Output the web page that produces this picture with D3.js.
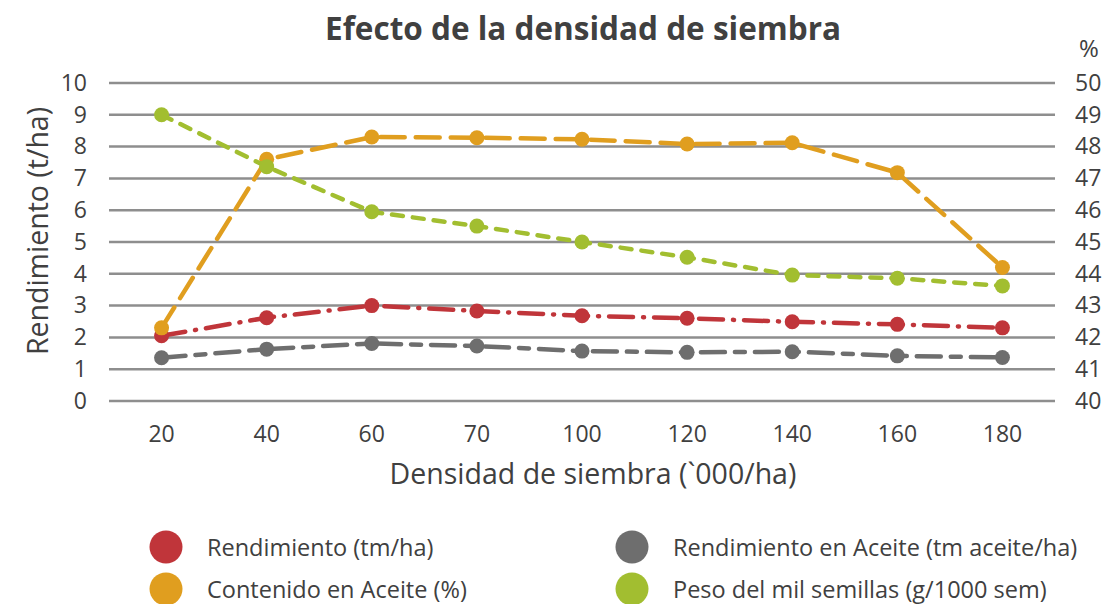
<!DOCTYPE html>
<html>
<head>
<meta charset="utf-8">
<script src="https://cdn.jsdelivr.net/npm/d3@7"></script>
<style>
  body { margin: 0; background: #fff; }
  text { font-family: "Open Sans", sans-serif; fill: #404040; }
</style>
</head>
<body>
<svg id="chart" width="1111" height="604"></svg>
<script>
// datos
var densidades = ["20", "40", "60", "70", "100", "120", "140", "160", "180"];
var rendimiento = [2.05, 2.62, 3.0, 2.83, 2.68, 2.60, 2.49, 2.41, 2.30];      // eje izq
var rendAceite = [1.36, 1.63, 1.81, 1.73, 1.57, 1.53, 1.55, 1.42, 1.37];       // eje izq
var contAceite = [42.3, 47.6, 48.3, 48.28, 48.23, 48.08, 48.12, 47.18, 44.2];  // eje der (%)
var pesoMil = [49.0, 47.37, 45.95, 45.5, 45.0, 44.52, 43.96, 43.86, 43.62];    // eje der
var ticksIzq = [0, 1, 2, 3, 4, 5, 6, 7, 8, 9, 10];
var ticksDer = [40, 41, 42, 43, 44, 45, 46, 47, 48, 49, 50];

var series = [
    {nombre: "Rendimiento (tm/ha)", valores: rendimiento, eje: "izq", color: "#C0353A", dash: "24,10,1,10"},
    {nombre: "Rendimiento en Aceite (tm aceite/ha)", valores: rendAceite, eje: "izq", color: "#6E6E6E", dash: "24,10,10,10"},
    {nombre: "Contenido en Aceite (%)", valores: contAceite, eje: "der", color: "#E09E1F", dash: "24,11"},
    {nombre: "Peso del mil semillas (g/1000 sem)", valores: pesoMil, eje: "der", color: "#A2BE30", dash: "11,10"}
];

var svg = d3.select("#chart");
// "top" es window.top, por eso otros nombres
var mIzq = 109, mDer = 1055, mSup = 83, mInf = 401;

var x = d3.scaleBand().domain(densidades).range([mIzq, mDer]);
var yIzq = d3.scaleLinear().domain([0, 10]).range([mInf, mSup]);
var yDer = d3.scaleLinear().domain([40, 50]).range([mInf, mSup]);

// lineas de cuadricula
svg.append("g")
    .selectAll("line")
    .data(ticksIzq)
    .enter().append("line")
    .attr("x1", mIzq).attr("x2", mDer)
    .attr("y1", function(d) { return yIzq(d); })
    .attr("y2", function(d) { return yIzq(d); })
    .attr("stroke", "#8E8E8E")
    .attr("stroke-width", 2.5);

// ejes
var ejeIzq = svg.append("g")
    .attr("transform", "translate(" + mIzq + ",0)")
    .call(d3.axisLeft(yIzq).tickValues(ticksIzq).tickSize(0).tickPadding(22));
var ejeDer = svg.append("g")
    .attr("transform", "translate(" + mDer + ",0)")
    .call(d3.axisRight(yDer).tickValues(ticksDer).tickSize(0).tickPadding(20));
var ejeX = svg.append("g")
    .attr("transform", "translate(0," + mInf + ")")
    .call(d3.axisBottom(x).tickSize(0).tickPadding(25));

[ejeIzq, ejeDer, ejeX].forEach(function(g) {
    g.select(".domain").remove();
    g.selectAll("text")
        .attr("font-family", "Open Sans")
        .attr("font-size", 23)
        .attr("fill", "#404040");
});

// lineas y marcadores
series.forEach(function(s) {
    var y = s.eje == "izq" ? yIzq : yDer;
    var linea = d3.line()
        .x(function(d, i) { return x(densidades[i]) + x.bandwidth() / 2; })
        .y(function(d) { return y(d); });

    svg.append("path")
        .datum(s.valores)
        .attr("d", linea)
        .attr("fill", "none")
        .attr("stroke", s.color)
        .attr("stroke-width", 4.5)
        .attr("stroke-linecap", "round")
        .attr("stroke-dasharray", s.dash);

    svg.append("g")
        .selectAll("circle")
        .data(s.valores)
        .enter().append("circle")
        .attr("cx", function(d, i) { return x(densidades[i]) + x.bandwidth() / 2; })
        .attr("cy", function(d) { return y(d); })
        .attr("r", 7.5)
        .attr("fill", s.color);
});

// titulos
svg.append("text")
    .attr("x", 583).attr("y", 40)
    .attr("text-anchor", "middle")
    .attr("font-size", 31.5)
    .attr("font-weight", "bold")
    .text("Efecto de la densidad de siembra");

svg.append("text")
    .attr("x", 1089).attr("y", 57)
    .attr("text-anchor", "middle")
    .attr("font-size", 24)
    .text("%");

svg.append("text")
    .attr("transform", "translate(48,231) rotate(-90)")
    .attr("text-anchor", "middle")
    .attr("font-size", 28.5)
    .text("Rendimiento (t/ha)");

svg.append("text")
    .attr("x", 593).attr("y", 484)
    .attr("text-anchor", "middle")
    .attr("font-size", 28.5)
    .text("Densidad de siembra (`000/ha)");

// leyenda
var leyenda = svg.append("g")
    .selectAll("g")
    .data(series)
    .enter().append("g")
    .attr("transform", function(d, i) {
        return "translate(" + (i % 2 == 0 ? 166 : 632) + "," + (i < 2 ? 547 : 589) + ")";
    });
leyenda.append("circle")
    .attr("r", 16.5)
    .attr("fill", function(d) { return d.color; });
leyenda.append("text")
    .attr("x", 41).attr("y", 8.5)
    .attr("font-size", 23.5)
    .text(function(d) { return d.nombre; });
</script>
</body>
</html>
